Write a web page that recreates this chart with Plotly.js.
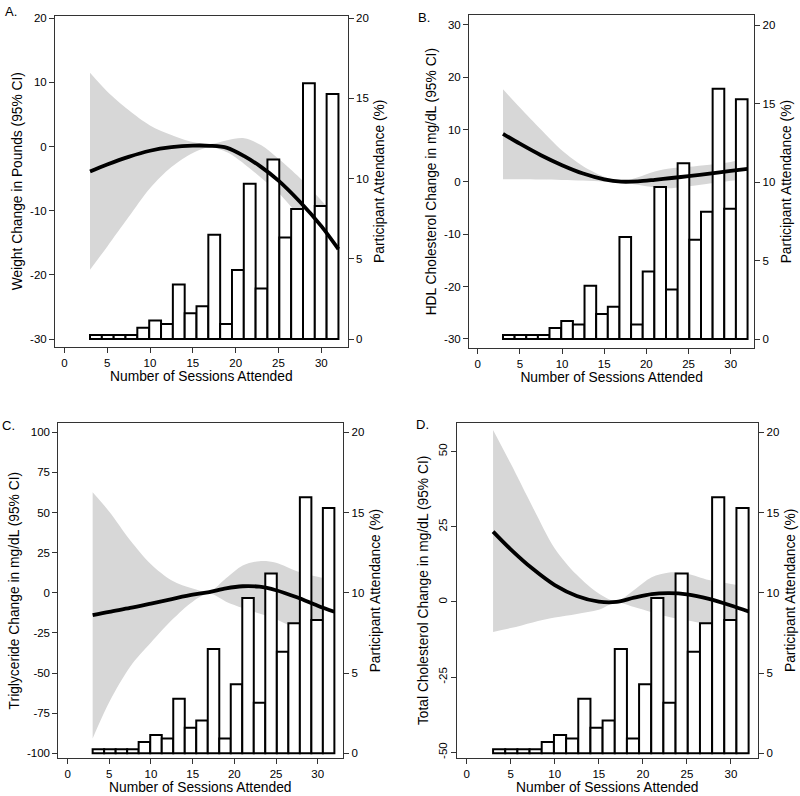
<!DOCTYPE html>
<html>
<head>
<meta charset="utf-8">
<script src="https://cdn.plot.ly/plotly-3.0.1.min.js"></script>
<style>
html,body{margin:0;padding:0;background:#fff;}
#chart{width:800px;height:796px;}
</style>
</head>
<body>
<div id="chart"></div>
<script>
// ---------- DATA ----------
// Histogram of sessions attended (bin centres) and participant attendance (%)
const sessionBins = [3.69, 5.07, 6.45, 7.83, 9.21, 10.60, 11.98, 13.36, 14.74, 16.12, 17.50,
                     18.88, 20.26, 21.64, 23.02, 24.40, 25.79, 27.17, 28.55, 29.93, 31.31];
const attendancePct = [0.25, 0.25, 0.25, 0.25, 0.7, 1.15, 0.93, 3.4, 1.6, 2.05, 6.5,
                       0.93, 4.3, 9.68, 3.15, 11.2, 6.33, 8.1, 15.95, 8.3, 15.28];

// Fitted curves (x = sessions attended)
const sessionsFit = [3, 5, 7.5, 10, 12.5, 15, 17, 19, 21, 23, 25, 27.5, 30, 32];

// A. Weight change (lb)
const weightFit   = [-3.9, -2.8, -1.6, -0.65, -0.1, 0.15, 0.12, -0.2, -1.5, -3.2, -5.3, -8.6, -12.4, -16.0];
const weightUpper = [11.5, 8.6, 5.7, 3.3, 1.8, 0.7, 0.4, 1.0, 1.3, 0.2, -1.9, -4.9, -8.4, -11.4];
const weightLower = [-19.2, -15.6, -11.0, -6.5, -3.2, -1.0, -0.1, -0.9, -2.7, -4.9, -7.2, -11.0, -15.1, -19.2];

// B. HDL cholesterol change (mg/dL)
const hdlFit   = [9.2, 7.3, 5.1, 3.2, 1.6, 0.5, 0.05, 0.1, 0.4, 0.75, 1.1, 1.6, 2.1, 2.5];
const hdlUpper = [17.7, 14.2, 10.0, 6.0, 3.0, 1.0, 0.15, 0.9, 2.0, 2.6, 2.9, 3.3, 3.8, 4.5];
const hdlLower = [0.5, 0.5, 0.45, 0.38, 0.25, 0.05, -0.1, -0.55, -1.05, -1.2, -0.85, -0.3, 0.2, 0.7];

// C. Triglyceride change (mg/dL)
const trigFit   = [-13.9, -11.8, -9.4, -6.7, -3.9, -1.2, 0.5, 2.8, 4.1, 3.8, 1.6, -2.8, -8.0, -11.8];
const trigUpper = [62.6, 50.5, 32.8, 17.8, 7.7, 2.7, 0.7, 9.0, 17.0, 19.7, 18.8, 13.5, 10.0, 7.9];
const trigLower = [-90.7, -68, -46, -31, -17, -5.5, -0.5, -5.5, -9.5, -12.9, -16.5, -22.5, -27.5, -31.5];

// D. Total cholesterol change (mg/dL)
const tcFit   = [23.4, 17.5, 11.0, 5.6, 2.0, 0.1, 0.0, 1.4, 2.6, 2.9, 2.5, 1.0, -1.2, -3.2];
const tcUpper = [57.2, 46.0, 31.5, 17.8, 9.0, 2.8, 0.3, 4.0, 8.2, 9.8, 9.4, 7.3, 6.0, 5.1];
const tcLower = [-10.0, -8.7, -6.8, -5.2, -4.0, -2.6, -0.2, -1.7, -3.4, -5.0, -6.1, -7.6, -9.2, -12.1];

// Tick labels
const xTicks = [0, 5, 10, 15, 20, 25, 30];
const attendTicks = [0, 5, 10, 15, 20];
const weightTicks = [-30, -20, -10, 0, 10, 20];
const hdlTicks = [-30, -20, -10, 0, 10, 20, 30];
const trigTicks = [-100, -75, -50, -25, 0, 25, 50, 75, 100];
const tcTicks = [-50, -25, 0, 25, 50];

// ---------- STYLE / LAYOUT ----------
const FONT = 'Liberation Sans, Arial, Helvetica, sans-serif';
const BAR_WIDTH = 29 / 21;
const AXCOL = '#333';
const XTITLE = 'Number of Sessions Attended';

const panels = [
  {fit: weightFit, up: weightUpper, lo: weightLower, ticks: weightTicks,
   title: 'Weight Change in Pounds (95% CI)', label: 'A.',
   xdom: [55/800, 347.7/800], ydom: [1-346.7/796, 1-15.7/796],
   xr: [-1.09, 33.08], yl: [-31.2, 20.4], yr: [-0.48, 20.16], angle: 0,
   lab: [3/800, 1-2/796], bottom: false},
  {fit: hdlFit, up: hdlUpper, lo: hdlLower, ticks: hdlTicks,
   title: 'HDL Cholesterol Change in mg/dL (95% CI)', label: 'B.',
   xdom: [469/800, 754.3/800], ydom: [1-348.3/796, 1-15/796],
   xr: [-1.03, 32.8], yl: [-31.8, 31.9], yr: [-0.59, 20.64], angle: 0,
   lab: [416/800, 1-8/796], bottom: false},
  {fit: trigFit, up: trigUpper, lo: trigLower, ticks: trigTicks,
   title: 'Triglyceride Change in mg/dL (95% CI)', label: 'C.',
   xdom: [58.3/800, 343.3/800], ydom: [1-758/796, 1-423.3/796],
   xr: [-1.12, 33.07], yl: [-102.9, 105.6], yr: [-0.29, 20.56], angle: 0,
   lab: [0/800, 1-416/796], bottom: true},
  {fit: tcFit, up: tcUpper, lo: tcLower, ticks: tcTicks,
   title: 'Total Cholesterol Change in mg/dL (95% CI)', label: 'D.',
   xdom: [457.3/800, 758.3/800], ydom: [1-758/796, 1-422.7/796],
   xr: [-1.06, 33.1], yl: [-51.9, 59.6], yr: [-0.29, 20.6], angle: -90,
   lab: [414/800, 1-415/796], bottom: true}
];

const traces = [];
const layout = {
  width: 800, height: 796,
  margin: {l: 0, r: 0, t: 0, b: 0},
  paper_bgcolor: '#fff', plot_bgcolor: '#fff',
  showlegend: false,
  font: {family: FONT, color: '#000', size: 11.5},
  annotations: []
};

const lbl = v => String(v);   // plain hyphen-minus as in the reference

panels.forEach((p, i) => {
  const xn = i + 1;
  const yL = 3 * i + 1, yR = 3 * i + 2, yH = 3 * i + 3;
  const xid = xn === 1 ? 'x' : 'x' + xn;
  const yLid = yL === 1 ? 'y' : 'y' + yL;
  const yRid = 'y' + yR, yHid = 'y' + yH;
  const xkey = xn === 1 ? 'xaxis' : 'xaxis' + xn;
  const yLkey = yL === 1 ? 'yaxis' : 'yaxis' + yL;

  // CI band (left axis)
  traces.push({x: sessionsFit, y: p.up, xaxis: xid, yaxis: yLid, type: 'scatter', mode: 'lines',
    line: {width: 0, shape: 'spline', smoothing: 0.9}, hoverinfo: 'skip'});
  traces.push({x: sessionsFit, y: p.lo, xaxis: xid, yaxis: yLid, type: 'scatter', mode: 'lines',
    line: {width: 0, shape: 'spline', smoothing: 0.9}, fill: 'tonexty', fillcolor: '#d7d7d7', hoverinfo: 'skip'});
  // histogram bars (right axis)
  traces.push({x: sessionBins, y: attendancePct, xaxis: xid, yaxis: yRid, type: 'bar',
    width: BAR_WIDTH, marker: {color: '#fff', line: {color: '#000', width: 2}}});
  // fitted line (hidden axis on top, same scale as left)
  traces.push({x: sessionsFit, y: p.fit, xaxis: xid, yaxis: yHid, type: 'scatter', mode: 'lines',
    line: {color: '#000', width: 3.8, shape: 'spline', smoothing: 0.9}});

  layout[xkey] = {
    domain: p.xdom, range: p.xr, anchor: yLid, tickvals: xTicks, ticktext: xTicks.map(lbl),
    ticks: 'outside', ticklen: 5, tickcolor: AXCOL, tickwidth: 1,
    showline: true, linecolor: AXCOL, linewidth: 1, mirror: true,
    showgrid: false, zeroline: false,
    tickfont: {family: FONT, size: 11.5, color: '#000'},
    title: p.bottom ? {text: ''} :
      {text: XTITLE, font: {family: FONT, size: 13.8, color: '#000'}, standoff: 3}
  };
  if (p.bottom) {
    layout.annotations.push({text: XTITLE, xref: 'paper', yref: 'paper',
      x: (p.xdom[0] + p.xdom[1]) / 2, y: 0.0005, xanchor: 'center', yanchor: 'bottom', borderpad: 0,
      showarrow: false, font: {family: FONT, size: 13.8, color: '#000'}});
  }
  layout[yLkey] = {
    domain: p.ydom, range: p.yl, anchor: xid, tickvals: p.ticks, ticktext: p.ticks.map(lbl),
    tickangle: p.angle,
    ticks: 'outside', ticklen: 5, tickcolor: AXCOL, tickwidth: 1,
    showline: true, linecolor: AXCOL, linewidth: 1,
    showgrid: false, zeroline: false,
    tickfont: {family: FONT, size: 11.5, color: '#000'},
    title: {text: p.title, font: {family: FONT, size: 13.8, color: '#000'}, standoff: 4}
  };
  layout['yaxis' + yR] = {
    overlaying: yLid, side: 'right', anchor: xid, range: p.yr,
    tickvals: attendTicks, ticktext: attendTicks.map(lbl),
    ticks: 'outside', ticklen: 5, tickcolor: AXCOL, tickwidth: 1,
    showline: true, linecolor: AXCOL, linewidth: 1,
    showgrid: false, zeroline: false,
    tickfont: {family: FONT, size: 11.5, color: '#000'},
    title: {text: 'Participant Attendance (%)', font: {family: FONT, size: 13.8, color: '#000'}, standoff: 6}
  };
  layout['yaxis' + yH] = {
    overlaying: yLid, anchor: xid, range: p.yl, visible: false, showgrid: false, zeroline: false
  };
  layout.annotations.push({text: p.label, xref: 'paper', yref: 'paper', x: p.lab[0], y: p.lab[1],
    xanchor: 'left', yanchor: 'top', showarrow: false, font: {family: FONT, size: 13, color: '#000'}});
});

Plotly.newPlot('chart', traces, layout, {displayModeBar: false, staticPlot: true});
</script>
</body>
</html>
